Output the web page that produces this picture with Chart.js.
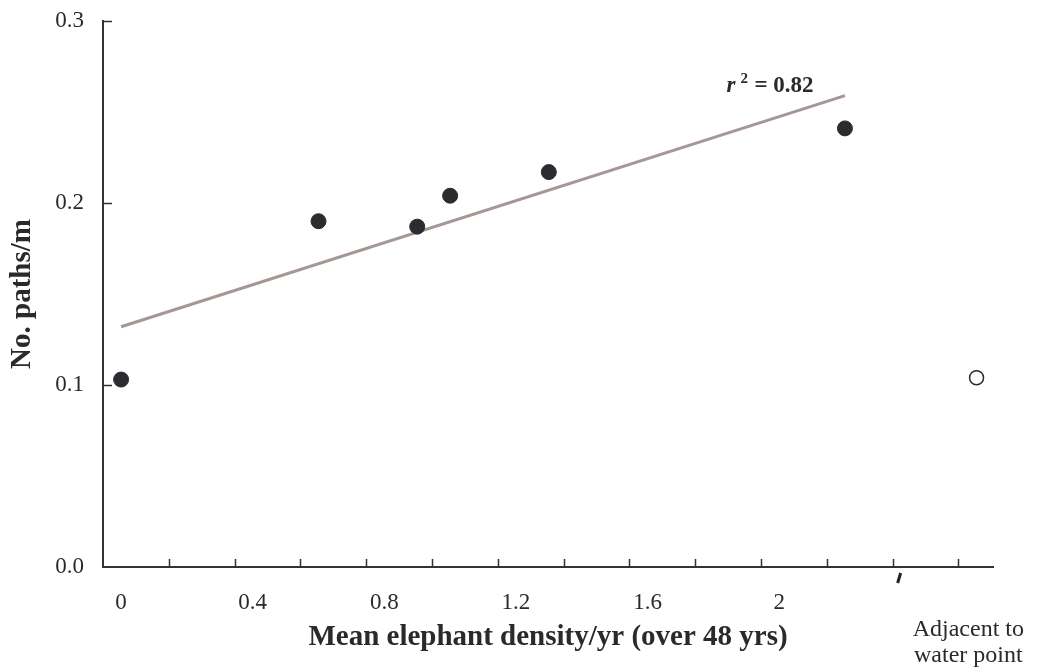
<!DOCTYPE html>
<html>
<head>
<meta charset="utf-8">
<script src="https://cdn.jsdelivr.net/npm/chart.js@4/dist/chart.umd.min.js"></script>
<style>
  html, body { margin: 0; padding: 0; background: #fff; }
  #wrap { width: 1042px; height: 670px; }
</style>
</head>
<body>
<div id="wrap"><canvas id="paths_chart" width="1042" height="670"></canvas></div>
<script>
// mean elephant density vs path density
var densityX = [0, 0.6, 0.9, 1.0, 1.3, 2.2];
var pathsY = [0.103, 0.190, 0.187, 0.204, 0.217, 0.241];

// site adjacent to water point, drawn past the axis break
var waterX = [2.6];
var waterY = [0.104];

// fitted line ends
var fitX = [0, 2.2];
var fitY = [0.132, 0.259];
var rSquared = '0.82';

var xTickValues = [0, 0.4, 0.8, 1.2, 1.6, 2, 2.575];
var xTickLabels = ['0', '0.4', '0.8', '1.2', '1.6', '2', ['', 'Adjacent to', 'water point']];
var xTickMarks = [0.145, 0.345, 0.545, 0.745, 0.945, 1.145, 1.345, 1.545, 1.745, 1.945, 2.145, 2.345, 2.545];
var xBreakAt = 2.345;
var yTickValues = [0, 0.1, 0.2, 0.3];

function toPoints(xs, ys) {
  var pts = [];
  xs.forEach(function (x, i) { pts.push({x: x, y: ys[i]}); });
  return pts;
}

var ink = '#2b2b30';
var serif = "'Liberation Serif', 'Times New Roman', serif";

var extras = {
  id: 'extras',
  afterDraw: function (chart) {
    var ctx = chart.ctx;
    var xs = chart.scales.x, ys = chart.scales.y;
    var area = chart.chartArea;
    ctx.save();
    ctx.strokeStyle = '#333';
    ctx.lineWidth = 1.5;
    // inward tick marks
    xTickMarks.forEach(function (v) {
      var px = Math.round(xs.getPixelForValue(v)) + 0.5;
      ctx.beginPath();
      ctx.moveTo(px, area.bottom);
      ctx.lineTo(px, area.bottom - 8);
      ctx.stroke();
    });
    yTickValues.forEach(function (v) {
      if (v === 0) return;
      var py = Math.round(ys.getPixelForValue(v)) + 0.5;
      ctx.beginPath();
      ctx.moveTo(area.left, py);
      ctx.lineTo(area.left + 9, py);
      ctx.stroke();
    });
    // axis break mark
    var bx = xs.getPixelForValue(xBreakAt);
    ctx.lineWidth = 3;
    ctx.strokeStyle = '#222';
    ctx.beginPath();
    ctx.moveTo(bx + 8, area.bottom + 6);
    ctx.lineTo(bx + 5, area.bottom + 16);
    ctx.stroke();

    // r squared note
    var tx = xs.getPixelForValue(1.84);
    var ty = ys.getPixelForValue(0.261);
    ctx.fillStyle = '#2a2a2a';
    ctx.textBaseline = 'alphabetic';
    ctx.textAlign = 'left';
    ctx.font = "italic bold 23px " + serif;
    ctx.fillText('r', tx, ty);
    ctx.font = "bold 15px " + serif;
    ctx.fillText('2', tx + 14, ty - 9);
    ctx.font = "bold 23px " + serif;
    ctx.fillText('= ' + rSquared, tx + 28, ty);
    ctx.restore();
  }
};

var ctx = document.getElementById('paths_chart').getContext('2d');

var chartInstance = new Chart(ctx, {
  type: 'scatter',
  data: {
    datasets: [{
      label: 'fit',
      data: toPoints(fitX, fitY),
      showLine: true,
      borderColor: '#a59794',
      borderWidth: 3,
      pointRadius: 0,
      order: 2
    }, {
      label: 'Paths',
      data: toPoints(densityX, pathsY),
      backgroundColor: ink,
      borderColor: ink,
      pointRadius: 7.5,
      order: 1
    }, {
      label: 'Adjacent to water point',
      data: toPoints(waterX, waterY),
      backgroundColor: '#fff',
      borderColor: ink,
      borderWidth: 1.5,
      pointRadius: 7,
      order: 1
    }]
  },
  options: {
    responsive: false,
    maintainAspectRatio: false,
    animation: false,
    layout: { padding: { left: 0, top: 21, right: 49, bottom: 0 } },
    plugins: {
      legend: { display: false },
      tooltip: { enabled: false }
    },
    scales: {
      x: {
        type: 'linear',
        min: -0.055,
        max: 2.65,
        afterBuildTicks: function (scale) {
          scale.ticks = xTickValues.map(function (v) { return {value: v}; });
        },
        afterFit: function (scale) {
          scale.height = 103;
          scale.paddingLeft = 0;
          scale.paddingRight = 0;
        },
        grid: { display: false },
        border: { display: true, color: '#333', width: 2 },
        ticks: {
          autoSkip: false,
          maxRotation: 0,
          padding: 14,
          color: '#2a2a2a',
          font: function (c) {
            if (c.index === 6) return { family: serif, size: 24, lineHeight: 1.12 };
            return { family: serif, size: 23, lineHeight: 1.2 };
          },
          callback: function (value, index) { return xTickLabels[index]; }
        },
        title: {
          display: true,
          text: 'Mean elephant density/yr (over 48 yrs)',
          color: '#2a2a2a',
          font: { family: serif, size: 29, weight: 'bold', lineHeight: 1.2 },
          padding: { top: 0, bottom: 15 }
        }
      },
      y: {
        min: 0,
        max: 0.3,
        afterBuildTicks: function (scale) {
          scale.ticks = yTickValues.map(function (v) { return {value: v}; });
        },
        afterFit: function (scale) {
          scale.width = 103;
          scale.paddingTop = 0;
          scale.paddingBottom = 0;
        },
        grid: { display: false },
        border: { display: true, color: '#333', width: 2 },
        ticks: {
          padding: 11,
          color: '#2a2a2a',
          font: { family: serif, size: 23 },
          callback: function (value) { return value.toFixed(1); }
        },
        title: {
          display: true,
          text: 'No. paths/m',
          color: '#2a2a2a',
          font: { family: serif, size: 29, weight: 'bold', lineHeight: 1.2 },
          padding: { top: 5, bottom: 0 }
        }
      }
    }
  },
  plugins: [extras]
});
</script>
</body>
</html>
